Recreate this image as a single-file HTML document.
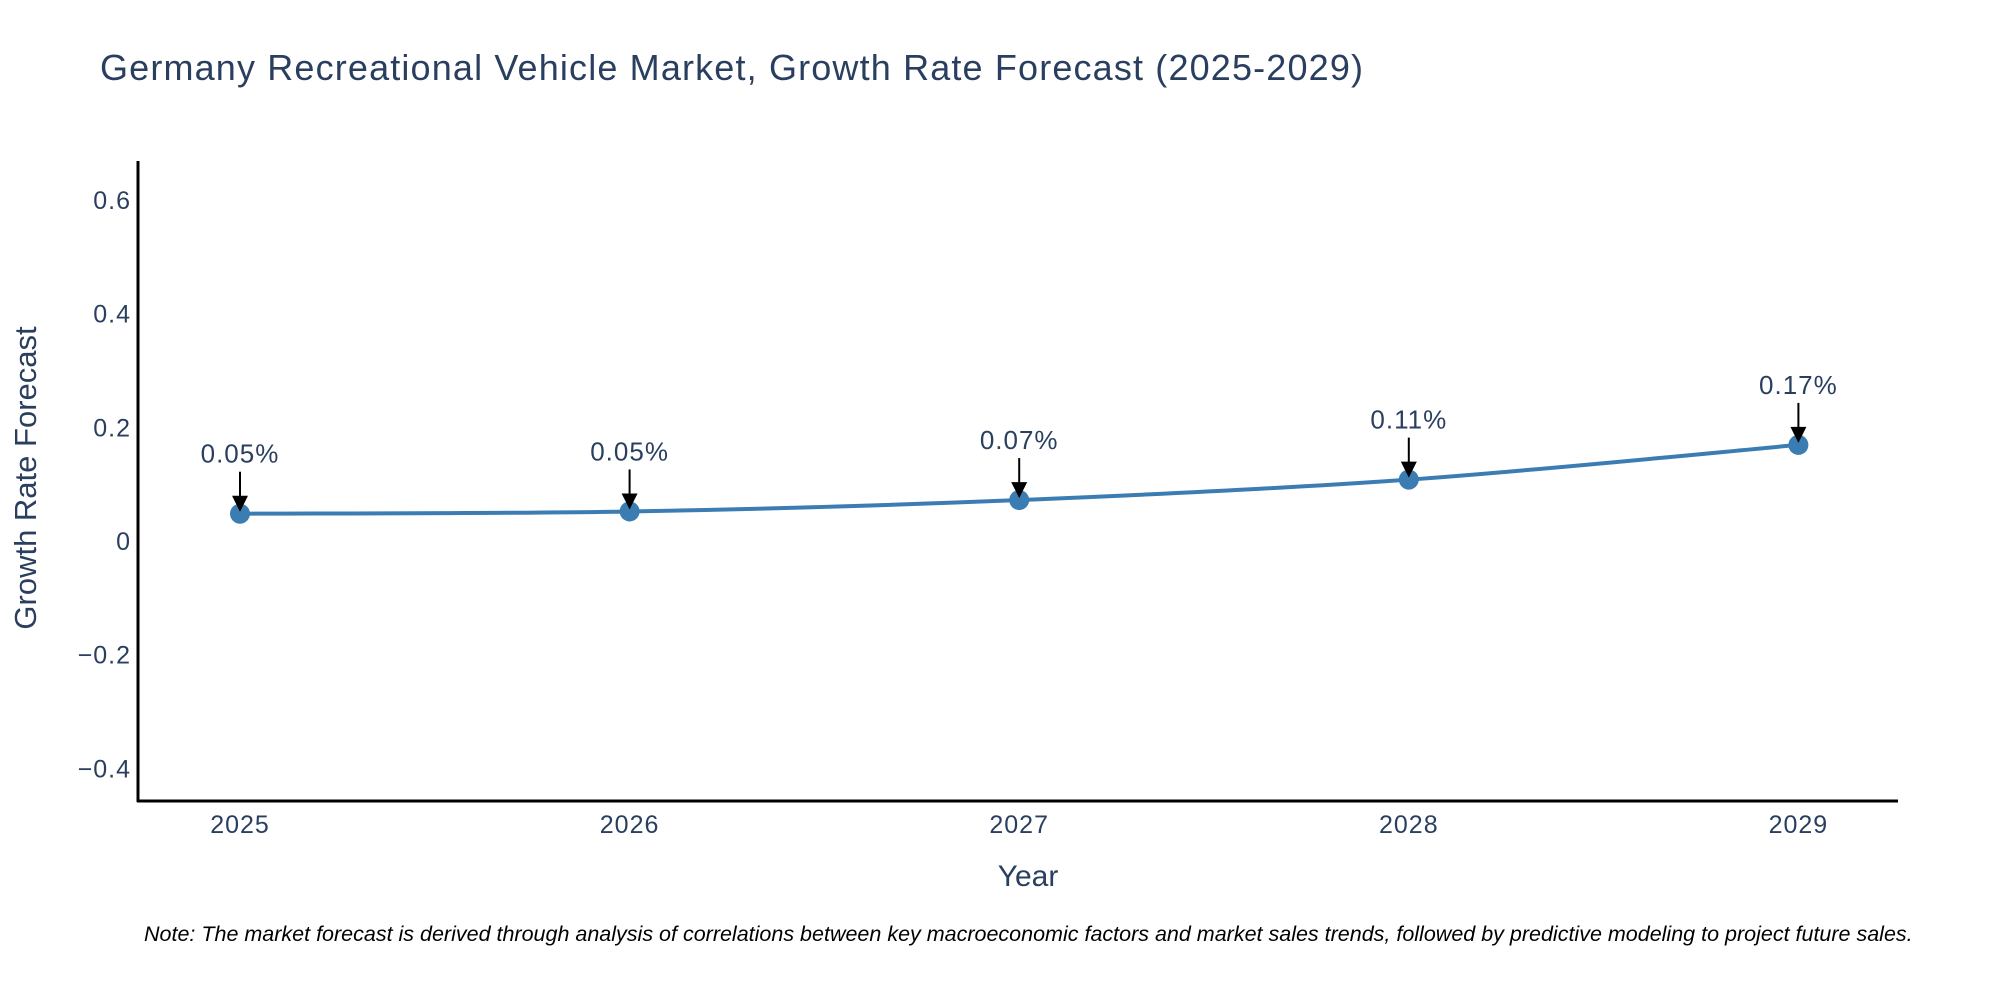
<!DOCTYPE html>
<html><head><meta charset="utf-8"><style>
html,body{margin:0;padding:0;background:#fff;}
svg{display:block;font-family:"Liberation Sans",sans-serif;}
</style></head><body>
<svg id="chart" width="2000" height="1000" viewBox="0 0 2000 1000">
<text x="100" y="80" font-size="36" fill="#2a3f5f" textLength="1263">Germany Recreational Vehicle Market, Growth Rate Forecast (2025-2029)</text>
<g id="yticks"></g>
<g id="xticks"></g>
<g id="series"></g>
<g id="annots"></g>
<line x1="138" y1="161" x2="138" y2="802" stroke="#000" stroke-width="3"/>
<line x1="137" y1="801" x2="1898" y2="801" stroke="#000" stroke-width="3"/>
<text x="1028" y="886" font-size="30" fill="#2a3f5f" text-anchor="middle">Year</text>
<text transform="translate(36,478) rotate(-90)" font-size="31" fill="#2a3f5f" text-anchor="middle">Growth Rate Forecast</text>
<text x="144" y="941" font-size="21.5" font-style="italic" fill="#000">Note: The market forecast is derived through analysis of correlations between key macroeconomic factors and market sales trends, followed by predictive modeling to project future sales.</text>
</svg>
<script>
const years = [2025, 2026, 2027, 2028, 2029];
const growth = [0.048, 0.052, 0.072, 0.108, 0.169];
const valueLabels = ["0.05%", "0.05%", "0.07%", "0.11%", "0.17%"];
const yTickValues = [-0.4, -0.2, 0, 0.2, 0.4, 0.6];
const yTickLabels = ["\u22120.4", "\u22120.2", "0", "0.2", "0.4", "0.6"];

const NS = "http://www.w3.org/2000/svg";
function xs(v){ return 240 + (v - 2025) * 389.6; }
function ys(v){ return 541 - v * 568.5; }
function mk(tag, attrs, parent){ const e = document.createElementNS(NS, tag); for (const k in attrs) e.setAttribute(k, attrs[k]); parent.appendChild(e); return e; }

const yg = document.getElementById('yticks');
yTickValues.forEach((v, i) => {
  const t = mk('text', {x: 131, y: ys(v) + 9, 'font-size': 25, fill: '#2a3f5f', 'text-anchor': 'end', 'letter-spacing': 1}, yg);
  
  
  t.textContent = yTickLabels[i];
});
const xg = document.getElementById('xticks');
years.forEach(y => {
  const t = mk('text', {x: xs(y), y: 833, 'font-size': 25, fill: '#2a3f5f', 'text-anchor': 'middle', 'letter-spacing': 1}, xg);
  
  
  t.textContent = String(y);
});

const pts = years.map((y, i) => [xs(y), ys(growth[i])]);
let d = 'M' + pts[0][0] + ',' + pts[0][1];
for (let i = 0; i < pts.length - 1; i++) {
  const p0 = pts[Math.max(0, i - 1)], p1 = pts[i], p2 = pts[i + 1], p3 = pts[Math.min(pts.length - 1, i + 2)];
  const c1 = [p1[0] + (p2[0] - p0[0]) / 6, p1[1] + (p2[1] - p0[1]) / 6];
  const c2 = [p2[0] - (p3[0] - p1[0]) / 6, p2[1] - (p3[1] - p1[1]) / 6];
  d += ' C' + c1 + ' ' + c2 + ' ' + p2;
}
const sg = document.getElementById('series');
const line = mk('path', {d: d, fill: 'none', stroke: '#3b7db3', 'stroke-width': 4}, sg);


pts.forEach(p => {
  const c = mk('circle', {cx: p[0], cy: p[1], r: 10, fill: '#3b7db3'}, sg);
  
  
});

const ag = document.getElementById('annots');
pts.forEach((p, i) => {
  const l = mk('line', {x1: p[0], y1: p[1] - 42, x2: p[0], y2: p[1] - 14, stroke: '#000', 'stroke-width': 2}, ag);
  
  
  const h = mk('polygon', {points: (p[0]-8)+','+(p[1]-18)+' '+(p[0]+8)+','+(p[1]-18)+' '+p[0]+','+(p[1]-2), fill: '#000'}, ag);
  
  
  const t = mk('text', {x: p[0], y: p[1] - 51, 'font-size': 26, fill: '#2a3f5f', 'text-anchor': 'middle', 'letter-spacing': 1}, ag);
  
  
  t.textContent = valueLabels[i];
});
</script>
</body></html>
